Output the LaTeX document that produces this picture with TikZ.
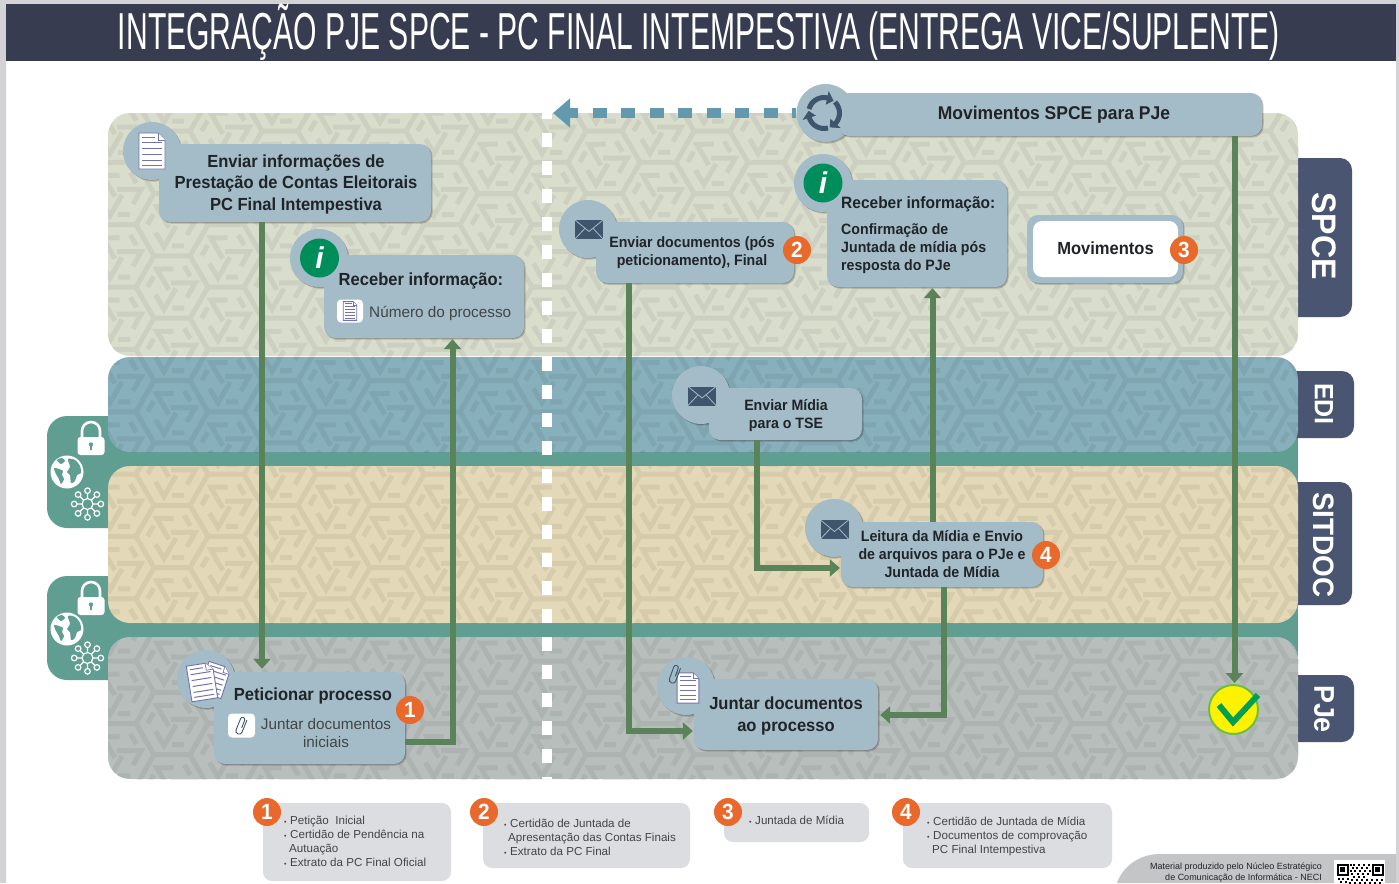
\documentclass[tikz,border=0pt]{standalone}
\usepackage{fontspec}
\setmainfont[BoldFeatures={FakeStretch=0.945}]{Liberation Sans}
\usetikzlibrary{arrows.meta,shadows,calc}

\definecolor{stripgray}{HTML}{D3D3D5}
\definecolor{titleblue}{HTML}{383C50}
\definecolor{spcefill}{HTML}{D9DDCC}
\definecolor{edifill}{HTML}{87AFBC}
\definecolor{sitfill}{HTML}{E3D8B7}
\definecolor{pjefill}{HTML}{B8BEBC}
\definecolor{tealbar}{HTML}{609E92}
\definecolor{tagblue}{HTML}{4A5571}
\definecolor{boxblue}{HTML}{A3BCC7}
\definecolor{flowgreen}{HTML}{5A8359}
\definecolor{dashblue}{HTML}{6299AE}
\definecolor{badgeorange}{HTML}{E8692B}
\definecolor{notegray}{HTML}{DCDDE0}
\definecolor{footgray}{HTML}{C4C5C6}
\definecolor{infogreen}{HTML}{008D5C}
\definecolor{inkblue}{HTML}{3F556B}
\definecolor{docline}{HTML}{7272AE}
\definecolor{inktext}{HTML}{202428}
\definecolor{checkyellow}{HTML}{FFF200}
\definecolor{checkring}{HTML}{6CBF45}
\definecolor{checkgreen}{HTML}{00A050}

\newcommand{\fbig}{\fontsize{17.5}{21.5}\selectfont\bfseries}
\newcommand{\fmid}{\fontsize{15}{18}\selectfont\bfseries}
\newcommand{\freg}{\fontsize{15.3}{18}\selectfont}
\newcommand{\fnote}{\fontsize{11.6}{14}\selectfont}
\newcommand{\notebul}{\makebox[6pt][l]{\fontsize{7}{7}\selectfont •}}

\tikzset{
  softshadow/.style={drop shadow={shadow xshift=.6pt,shadow yshift=-.6pt,opacity=.18,fill=black},
    drop shadow={shadow xshift=1.6pt,shadow yshift=-1.6pt,opacity=.18,fill=black}},
  stepbox/.style={shape=rectangle,fill=boxblue,rounded corners=11pt,inner sep=0pt,align=center,
    softshadow,text=inktext,font=\fbig},
  iconcirc/.style={shape=circle,fill=boxblue,minimum size=58pt,inner sep=0pt,softshadow},
  infodisc/.style={shape=circle,fill=infogreen,minimum size=39pt,inner sep=0pt,text=white,
    font=\fontsize{30}{30}\selectfont\rmfamily\bfseries\itshape},
  iconsq/.style={shape=rectangle,fill=white,rounded corners=4pt,minimum width=27pt,minimum height=24pt},
  boxtext/.style={text=inktext,inner sep=0pt,align=center,font=\fbig},
  regtext/.style={text=inktext!85!white,inner sep=0pt,align=center,font=\freg},
  badge/.style={shape=circle,fill=badgeorange,minimum size=28pt,inner sep=0pt,text=white,
    font=\fontsize{22}{22}\selectfont\bfseries},
  tagtext/.style={text=white,rotate=-90,inner sep=0pt,font=\bfseries},
  notebox/.style={shape=rectangle,fill=notegray,rounded corners=9pt,inner sep=0pt},
  notetext/.style={text=inktext!85!white,inner sep=0pt,anchor=west,align=left,font=\fnote},
  flow/.style={draw=flowgreen,line width=6pt,-{Triangle[length=10pt,width=17pt]},shorten >=1pt},
  hexline/.style={line width=5pt,black},
  docpic/.pic={\begin{scope}[x=1pt,y=1pt]
    \filldraw[fill=white,draw=docline,line width=.9pt] (-13,18) -- (6,18) -- (13,11) -- (13,-18) -- (-13,-18) -- cycle;
    \draw[docline,line width=.7pt,fill=white] (6,18) -- (6,11) -- (13,11);
    \foreach \y in {9,3,-3,-9,-14} \draw[docline,line width=1pt] (-10,\y) -- (10,\y);
    \draw[docline,line width=1pt] (-10,14) -- (3,14);
  \end{scope}},
  clippic/.pic={\begin{scope}[x=1pt,y=1pt]
    \draw[inkblue,line width=.9pt] (1,-2) -- (1,6) arc[start angle=0,end angle=180,radius=2.2]
      -- (-3.4,-6) arc[start angle=180,end angle=360,radius=3.2] -- (3,7);
  \end{scope}},
  envpic/.pic={\begin{scope}[x=1pt,y=1pt]
    \fill[inkblue] (-14,-9.5) rectangle (14,9.5);
    \draw[boxblue,line width=.8pt] (-14,9.5) -- (0,-2) -- (14,9.5) (-14,-9.5) -- (-4,1.2) (14,-9.5) -- (4,1.2);
  \end{scope}},
  cyclepic/.pic={\begin{scope}[x=1pt,y=1pt]
    \foreach \a in {0,-120,-240} {
      \begin{scope}[rotate=\a]
        \draw[inkblue,line width=5pt] (165:15.5) arc[start angle=165,end angle=76,radius=15.5];
        \fill[inkblue] (78:8.5) -- (78:22.5) -- (52:15.5) -- cycle;
      \end{scope}}
  \end{scope}},
  lockpic/.pic={\begin{scope}[x=1pt,y=1pt]
    \draw[white,line width=2.6pt] (-9,0) -- (-9,15) arc[start angle=180,end angle=0,radius=9] -- (9,0);
    \fill[white,rounded corners=3pt] (-13.5,-9) rectangle (13.5,9);
    \fill[tealbar] (0,1.5) circle (2.2pt);
    \fill[tealbar] (-1,1.5) -- (1,1.5) -- (.8,-4) -- (-.8,-4) -- cycle;
  \end{scope}},
  globepic/.pic={\begin{scope}[x=1pt,y=1pt]
    \fill[white] (0,0) circle (16.5pt);
    \fill[tealbar] plot[smooth cycle] coordinates {(-13,4) (-8,3) (-4,1) (-5,-3) (-3,-7) (-6,-12) (-8,-7) (-11,-2)};
    \fill[tealbar] plot[smooth cycle] coordinates {(1,13) (8,12) (13,6) (14,-1) (10,-3) (8,-9) (4,-11) (3,-3) (0,0) (3,5)};
    \fill[tealbar] plot[smooth cycle] coordinates {(-10,12) (-5,14) (-2,11) (-6,8)};
  \end{scope}},
  netpic/.pic={\begin{scope}[x=1pt,y=1pt]
    \draw[white,line width=1.2pt] (0,0) circle (5.5pt);
    \foreach \a in {0,45,...,315} {
      \draw[white,line width=1.2pt] (\a:5.5) -- (\a:10.5) (\a:13.3) circle (2.8pt);}
  \end{scope}},
}

\begin{document}
\begin{tikzpicture}[x=1pt,y=-1pt]
\useasboundingbox (0,0) rectangle (1399,883);
\fill[white] (0,0) rectangle (1399,883);
\fill[stripgray] (0,0) rectangle (6,883) (1396,0) rectangle (1399,883) (0,0) rectangle (1399,4);

% title
\fill[titleblue] (6,4) rectangle (1396,61);
\node[text=white,inner sep=0pt,anchor=base] (title) at (699,50)
  {\resizebox{1162pt}{\height}{\fontsize{52}{52}\selectfont INTEGRAÇÃO PJE SPCE - PC FINAL INTEMPESTIVA (ENTREGA VICE/SUPLENTE)}};

% teal backing and side tabs
\fill[tealbar,rounded corners=20pt] (47,416) rectangle (140,528);
\fill[tealbar,rounded corners=20pt] (47,576) rectangle (140,680);
\fill[tealbar] (125,430) rectangle (1298,660);

% system tags
\fill[tagblue,rounded corners=12pt] (1280,158) rectangle (1352,317);
\fill[tagblue,rounded corners=12pt] (1280,371) rectangle (1354,438);
\fill[tagblue,rounded corners=12pt] (1280,482) rectangle (1352,605);
\fill[tagblue,rounded corners=12pt] (1280,675) rectangle (1354,742);
\node[tagtext,font=\fontsize{34}{34}\selectfont\bfseries] (tagspce) at (1324,236) {SPCE};
\node[tagtext,font=\fontsize{26.5}{26}\selectfont\bfseries] (tagedi) at (1324,404) {EDI};
\node[tagtext,font=\fontsize{29.5}{29}\selectfont\bfseries] (tagsit) at (1324,545) {SITDOC};
\node[tagtext,font=\fontsize{28.5}{28}\selectfont\bfseries] (tagpje) at (1324,709) {PJe};

% bands
\fill[spcefill,rounded corners=22pt] (108,113) rectangle (1298,356);
\fill[edifill,rounded corners=22pt] (108,357) rectangle (1298,452);
\fill[sitfill,rounded corners=22pt] (108,466) rectangle (1298,623);
\fill[pjefill,rounded corners=22pt] (108,637) rectangle (1298,779);
\begin{scope}
  \clip[rounded corners=22pt] (108,113) rectangle (1298,356) (108,357) rectangle (1298,452)
    (108,466) rectangle (1298,623) (108,637) rectangle (1298,779);
  \begin{scope}[transparency group,opacity=.055]
    \foreach \c in {0,...,23} \foreach \r in {0,...,11} {
      \pgfmathsetmacro\hx{100+54*\c}
      \pgfmathsetmacro\hy{100+62.35*\r+mod(\c,2)*31.18}
      \foreach \a in {0,120,240} {
        \begin{scope}[shift={(\hx,\hy)},rotate=\a,x=1pt,y=1pt]
          \draw[hexline] (0,0) -- (36,0) (1.5,23.4) -- (10,9) -- (22,29.8) (18,10) -- (30,10);
        \end{scope}}}
  \end{scope}
\end{scope}

% tab icons
\path (91,446) pic {lockpic};
\path (67,472) pic {globepic};
\path (87.5,504) pic {netpic};
\path (91,606) pic {lockpic};
\path (67,629) pic {globepic};
\path (87.5,658) pic {netpic};

% divider
\coordinate (divtop) at (547,105);
\coordinate (divbot) at (547,779);
\draw[white,line width=10.5pt,dash pattern=on 14pt off 14pt] (divtop) -- (divbot);

% icon circles
\node[iconcirc] (infocirc) at (152,151) {};
\node[iconcirc] (reccirc) at (319,258) {};
\node[iconcirc] (sendcirc) at (588,229) {};
\node[iconcirc] (cyclecirc) at (825.5,113) {};
\node[iconcirc] (confcirc) at (823,183) {};
\node[iconcirc] (midcirc) at (701,395) {};
\node[iconcirc] (readcirc) at (834,528) {};
\node[iconcirc] (joincirc) at (686,686) {};
\node[iconcirc] (petcirc) at (206,679) {};

% step boxes
\node[stepbox,minimum width=272pt,minimum height=78pt] (infobox) at (295,183) {};
\node[stepbox,minimum width=200pt,minimum height=83pt] (recbox) at (424,296.5) {};
\node[stepbox,minimum width=198pt,minimum height=61pt] (sendbox) at (695,252.5) {};
\node[stepbox,minimum width=424pt,minimum height=43pt] (movbox) at (1050,114.5) {};
\node[stepbox,minimum width=180pt,minimum height=107pt] (confbox) at (917,233.5) {};
\node[stepbox,minimum width=156pt,minimum height=68pt] (movout) at (1105,249) {};
\node[shape=rectangle,fill=white,rounded corners=9pt,minimum width=145pt,minimum height=56pt,inner sep=0pt] (movin) at (1105.5,249) {};
\node[stepbox,minimum width=153pt,minimum height=52pt] (midbox) at (785.5,414) {};
\node[stepbox,minimum width=202pt,minimum height=65pt] (readbox) at (942,554.5) {};
\node[stepbox,minimum width=184pt,minimum height=71pt] (joinbox) at (786,714.5) {};
\node[stepbox,minimum width=191pt,minimum height=92pt] (petbox) at (309.5,718) {};

% box texts
\node[boxtext] (infotext) at (296,184) {Enviar informações de\\Prestação de Contas Eleitorais\\PC Final Intempestiva};
\node[boxtext] (reclabel) at (421,280.5) {Receber informação:};
\node[iconsq,minimum width=26pt,minimum height=23pt] (recsq) at (350,311) {};
\node[regtext,anchor=west] (recnum) at (369,313.5) {Número do processo};
\node[boxtext,font=\fmid] (sendtext) at (692,253) {Enviar documentos (pós\\peticionamento), Final};
\node[boxtext,font=\fontsize{18.5}{21}\selectfont\bfseries] (movtext) at (1054,114.5) {Movimentos SPCE para PJe};
\node[boxtext,anchor=west,font=\fontsize{16.4}{16}\selectfont\bfseries] (confhead) at (841,204.5) {Receber informação:};
\node[boxtext,anchor=west,align=left,font=\fmid] (confbody) at (841,249)
  {Confirmação de\\Juntada de mídia pós\\resposta do PJe};
\node[boxtext] (movintext) at (1105.5,248.5) {Movimentos};
\node[boxtext,font=\fmid] (midtext) at (786,416) {Enviar Mídia\\para o TSE};
\node[boxtext,font=\fmid] (readtext) at (942,554) {Leitura da Mídia e Envio\\de arquivos para o PJe e\\Juntada de Mídia};
\node[boxtext] (jointext) at (786,716) {Juntar documentos\\ao processo};
\node[boxtext] (petlabel) at (313,695.5) {Peticionar processo};
\node[iconsq] (petsq) at (241.5,725.5) {};
\node[regtext] (petdocs) at (326,733.5) {Juntar documentos\\iniciais};

% icons
\path (152,151) pic {docpic};
\node[infodisc] (infoa) at (319.5,258) {i};
\path (350,311) pic[scale=.52] {docpic};
\path (589,229.5) pic {envpic};
\path (824,113) pic {cyclepic};
\node[infodisc] (infob) at (823,183) {i};
\path (702,396) pic {envpic};
\path (834.5,529.5) pic {envpic};
\path (688,688) pic[scale=.84] {docpic};
\path (675,674) pic[rotate=-20,scale=1.05] {clippic};
\path (215,680) pic[rotate=-18,scale=.88] {docpic};
\path (202,682) pic[rotate=9,scale=1] {docpic};
\path (241.5,725.5) pic[rotate=-22] {clippic};

% check mark
\node[shape=circle,fill=checkyellow,draw=checkring,line width=2pt,minimum size=49pt,inner sep=0pt] (donemark) at (1233.5,709.5) {};
\draw[checkgreen,line width=6pt] (1219,705) -- (1233,722) -- (1258,695);

% connectors
\coordinate (xa) at (262,0);
\coordinate (xb) at (452.5,0);
\coordinate (yb) at (0,741.5);
\coordinate (xc) at (629,0);
\coordinate (yc) at (0,731);
\coordinate (xd) at (757,0);
\coordinate (yd) at (0,568);
\coordinate (xe) at (932.5,0);
\coordinate (xf) at (943.5,0);
\coordinate (yf) at (0,715);
\coordinate (xg) at (1234.5,0);
\coordinate (dashtip) at (553,113);
\draw[flow,shorten >=3pt] (infobox.south -| xa) -- (petbox.north -| xa);
\draw[flow] (petbox.east |- yb) -| (xb |- recbox.south);
\draw[flow] (sendbox.south -| xc) |- (joinbox.west |- yc);
\draw[flow] (midbox.south -| xd) |- (readbox.west |- yd);
\draw[flow] (readbox.north -| xe) -- (confbox.south -| xe);
\draw[flow,shorten >=2pt] (readbox.south -| xf) |- (joinbox.east |- yf);
\draw[flow] (movbox.south -| xg) -- (xg |- donemark.north);
\draw[dashblue,line width=9.5pt,dash pattern=on 14pt off 14.5pt,dash phase=10pt,
  -{Triangle[length=17pt,width=28pt]}] (cyclecirc.west) -- (dashtip);

% badges
\node[badge] (badgea) at (410,710) {1};
\node[badge] (badgeb) at (797,250) {2};
\node[badge] (badgec) at (1184,250) {3};
\node[badge] (badged) at (1046,555) {4};

% notes
\node[notebox,minimum width=188pt,minimum height=78pt] (notea) at (357,842) {};
\node[notebox,minimum width=207pt,minimum height=65pt] (noteb) at (586.5,835.5) {};
\node[notebox,minimum width=145pt,minimum height=39pt] (notec) at (796.5,822.5) {};
\node[notebox,minimum width=209pt,minimum height=65pt] (noted) at (1007.5,835.5) {};
\node[badge] (notebadgea) at (267,812) {1};
\node[badge] (notebadgeb) at (484,812) {2};
\node[badge] (notebadgec) at (728,812) {3};
\node[badge] (notebadged) at (906,812) {4};
\node[notetext] (notetxta) at (284,841)
  {\notebul Petição\ \ Inicial\\\notebul Certidão de Pendência na\\\hspace*{5pt}Autuação\\\notebul Extrato da PC Final Oficial};
\node[notetext] (notetxtb) at (504,837)
  {\notebul Certidão de Juntada de\\\hspace*{4pt}Apresentação das Contas Finais\\\notebul Extrato da PC Final};
\node[notetext] (notetxtc) at (749,820) {\notebul Juntada de Mídia};
\node[notetext] (notetxtd) at (927,836)
  {\notebul Certidão de Juntada de Mídia\\\notebul Documentos de comprovação\\\hspace*{5pt}PC Final Intempestiva};

% footer
\fill[footgray] (1396,854) -- (1160,854) .. controls (1138,854) and (1122,868) .. (1117,883) -- (1396,883) -- cycle;
\node[inner sep=0pt,anchor=north east,align=right,text=inktext,font=\fontsize{9}{11}\selectfont] (footnote) at (1322,863)
  {Material produzido pelo Núcleo Estratégico\\de Comunicação de Informática - NECI};
\fill[white] (1334,860) rectangle (1385,883);
\foreach \fx in {1337,1372} {
  \fill[black] (\fx,864) rectangle +(11.5,11.5);
  \fill[white] (\fx+1.6,865.6) rectangle +(8.3,8.3);
  \fill[black] (\fx+3.2,867.2) rectangle +(5.1,5.1);}
\foreach \qx/\qy in {1350/864,1353/864,1358/864,1363/864,1368/864,1352/867,1356/867,1361/867,1366/867,
  1350/870,1354/870,1359/870,1364/870,1369/870,1351/873,1357/873,1362/873,1367/873,1353/876,1358/876,
  1363/876,1338/878,1342/878,1347/878,1351/879,1356/879,1361/879,1366/879,1371/879,1376/879,1381/879,
  1340/881,1345/881,1349/882,1354/882,1359/882,1364/882,1369/882,1374/882,1379/882}
  \fill[black] (\qx,\qy) rectangle +(2.4,2.4);
\end{tikzpicture}
\end{document}
